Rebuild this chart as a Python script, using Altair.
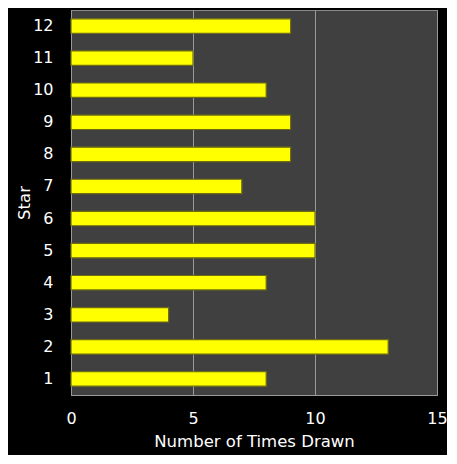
import altair as alt
import pandas as pd

stars = [str(i) for i in range(1, 13)]
times_drawn = [8, 13, 4, 8, 10, 10, 7, 9, 9, 8, 5, 9]

df = pd.DataFrame({"Star": stars, "Times": times_drawn})

font = "DejaVu Sans"

chart = alt.Chart(df).mark_bar(
    color="#ffff00", stroke="#6e6e10", strokeWidth=1.2
).encode(
    x=alt.X("Times:Q", title="Number of Times Drawn",
            scale=alt.Scale(domain=[0, 15], nice=False),
            axis=alt.Axis(values=[0, 5, 10, 15], grid=True, gridColor="#9a9a9a",
                          gridWidth=1, ticks=False, labelPadding=15,
                          labelFlush=False, titlePadding=7)),
    y=alt.Y("Star:N", title="Star", sort=stars[::-1],
            scale=alt.Scale(paddingInner=0.55, paddingOuter=0.275),
            axis=alt.Axis(ticks=False, labelPadding=18, titlePadding=0,
                          labelAngle=0)),
).properties(
    width=366, height=385,
    background="black",
    padding={"left": 63, "top": 2, "right": 10, "bottom": 60},
    autosize=alt.AutoSizeParams(type="none"),
).configure_view(
    fill="#404040", stroke="#8a8a8a", strokeWidth=1
).configure_axis(
    labelColor="white", titleColor="white", labelFont=font, titleFont=font,
    labelFontSize=16, titleFontSize=16.5, titleFontWeight="normal",
    domainColor="#9a9a9a", domainWidth=1,
)

chart.save("out.html", embed_options={"renderer": "svg", "actions": False})
